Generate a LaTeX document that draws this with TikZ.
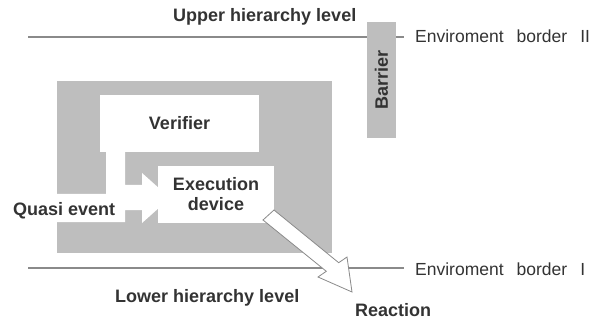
\documentclass[tikz,border=0pt]{standalone}
\usepackage{fontspec}
\setmainfont{Liberation Sans}
\usetikzlibrary{positioning}
\definecolor{panelGray}{HTML}{BEBEBE}
\definecolor{textDark}{HTML}{333333}
\definecolor{borderGray}{HTML}{8A8A8A}

\tikzset{
  lbl/.style={font=\fontsize{18}{20}\selectfont\bfseries, text=textDark, inner sep=0pt},
  envlbl/.style={font=\fontsize{17.5}{20}\selectfont, text=textDark, anchor=base west, inner sep=0pt},
  whitebox/.style={lbl, fill=white, align=center},
  borderline/.style={borderGray, line width=1.3pt},
}

\begin{document}
\begin{tikzpicture}[x=1pt, y=-1pt]
    \useasboundingbox (0,0) rectangle (601,320);

    % ══ System panel ══
    \fill[panelGray] (57,81) rectangle (332,253);

    % Verifier
    \node[whitebox, minimum width=159pt, minimum height=57pt] (verifier) at (179.5,123.5) {Verifier};

    % Quasi event path: stem from the verifier, band from the left, head into the device
    \fill[white] (106,152) -- (125,152) -- (125,185) -- (142,185) -- (142,173)
        -- (170,198) -- (142,223) -- (142,210) -- (125,210) -- (125,222)
        -- (57,222) -- (57,194) -- (106,194) -- cycle;

    % Execution device
    \node[whitebox, minimum width=116pt, minimum height=57pt] (execdev) at (216,194.5) {Execution\\device};

    \node[lbl, anchor=base west] (quasi) at (13,215) {Quasi event};

    % ══ Environment borders ══
    \coordinate (upL) at (28,37);
    \coordinate (upR) at (404,37);
    \coordinate (loL) at (28,268);
    \coordinate (loR) at (404,268);
    \draw[borderline] (upL) -- (upR);
    \draw[borderline] (loL) -- (loR);

    \node[envlbl] (envII) at (415,43) {Enviroment\hspace{13pt}border\hspace{13pt}II};
    \node[envlbl] (envI) at (415,275) {Enviroment\hspace{13pt}border\hspace{13pt}I};

    \node[lbl, anchor=base west] (upper) at (173,22) {Upper hierarchy level};
    \node[lbl, anchor=base west] (lower) at (115,302) {Lower hierarchy level};

    % Barrier
    \fill[panelGray] (367,22) rectangle (396,138);
    \node[lbl, rotate=90] (barrier) at (381.5,80) {Barrier};

    % ══ Reaction arrow ══
    \coordinate (tail) at (268.5,215);
    \coordinate (tip) at (352,292);
    \draw[borderGray, line width=0.8pt, fill=white, line join=miter]
        (263,220) -- (274,210) -- (338.7,262.7) -- (347,257) -- (tip)
        -- (318,277) -- (326.3,271.3) -- cycle;

    \node[lbl, anchor=base west] (reaction) at (355,316) {Reaction};

\end{tikzpicture}
\end{document}
